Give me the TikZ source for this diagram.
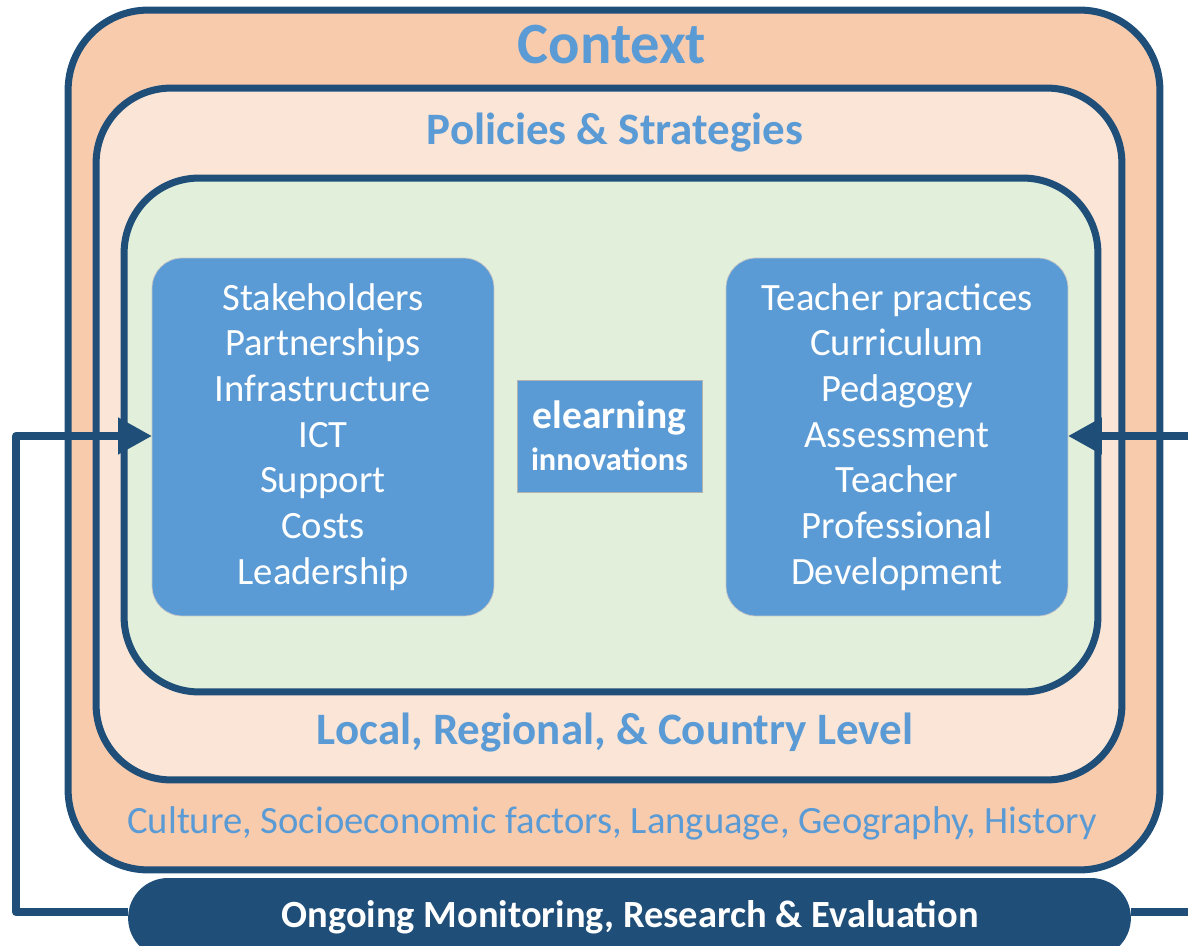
\documentclass[tikz,border=0pt]{standalone}
\usepackage{fontspec}
\setmainfont{Carlito}
\usetikzlibrary{arrows.meta}

\definecolor{darkblue}{HTML}{1F4E79}
\definecolor{midblue}{HTML}{5B9BD5}
\definecolor{peach}{HTML}{F8CBAD}
\definecolor{lightpeach}{HTML}{FBE5D6}
\definecolor{lightgreen}{HTML}{E2EFDA}

\begin{document}
\begin{tikzpicture}[x=0.02cm,y=-0.02cm]

    \tikzset{
      layer/.style={
        draw=darkblue,
        line width=4pt,
        rectangle,
        rounded corners=1.6cm,
        inner sep=0pt,
        outer sep=0pt,
      },
      itembox/.style={
        draw=gray!45,
        fill=midblue,
        rectangle,
        rounded corners=0.6cm,
        minimum width=6.84cm,
        minimum height=7.16cm,
        outer sep=0pt,
        align=center,
        text=white,
        font=\fontsize{22}{26}\selectfont,
      },
      title/.style={
        text=midblue,
        font=\bfseries\fontsize{25.6}{30}\selectfont,
      },
      feedback/.style={
        draw=darkblue,
        line width=4.5pt,
        line join=round,
      },
    }
    \useasboundingbox (0,0) rectangle (1188,946);
    \clip (0,0) rectangle (1188,946);

    % nested levels
    \node[layer,fill=peach,minimum width=21.84cm,minimum height=17.2cm] (context) at (614,440) {};
    \node[layer,fill=lightpeach,minimum width=20.52cm,minimum height=13.84cm,rounded corners=1.5cm] (policies) at (609,434) {};
    \node[layer,fill=lightgreen,minimum width=19.48cm,minimum height=10.28cm,rounded corners=1.5cm] (level) at (611,435) {};

    % titles
    \node[text=midblue,font=\bfseries\fontsize{33.3}{38}\selectfont] (contextlabel) at (612,45) {Context};
    \node[title] (policieslabel) at (615,133) {Policies \& Strategies};
    \node[title] (levellabel) at (615,733) {Local, Regional, \& Country Level};
    \node[text=midblue,font=\fontsize{22}{26}\selectfont] (culturelabel) at (612,823)
      {Culture, Socioeconomic factors, Language, Geography, History};

    % inner boxes
    \node[itembox] (resources) at (323,437)
      {Stakeholders\\Partnerships\\Infrastructure\\ICT\\Support\\Costs\\Leadership};
    \node[itembox] (practices) at (897,437)
      {Teacher practices\\Curriculum\\Pedagogy\\Assessment\\Teacher\\Professional\\Development};
    \node[draw=gray!60,fill=midblue,minimum width=3.7cm,minimum height=2.24cm,
      align=center,text=white,font=\bfseries] (innovations) at (609.5,436)
      {{\fontsize{22.5}{25}\selectfont elearning}\\[6pt]{\fontsize{18.4}{21}\selectfont innovations}};

    % monitoring bar
    \node[fill=darkblue,rectangle,rounded corners=0.8cm,minimum width=20.06cm,
      minimum height=1.6cm,outer sep=0pt] (monitoring) at (629.5,918) {};
    \node[text=white,font=\bfseries\fontsize{21.9}{25}\selectfont] (monitoringlabel) at (630,917)
      {Ongoing Monitoring, Research \& Evaluation};

    % feedback loops
    \coordinate (leftdown) at (16,912);
    \coordinate (leftup) at (16,436);
    \coordinate (rightout) at (1188,912);
    \coordinate (rightin) at (1188,436);
    \draw[feedback,-{Triangle[length=0.68cm,width=0.7cm]}]
      (monitoring.west |- leftdown) -- (leftdown) -- (leftup) -- (resources.west |- leftup);
    \draw[feedback] (monitoring.east |- rightout) -- (rightout);
    \draw[feedback,-{Triangle[length=0.68cm,width=0.7cm]}] (rightin) -- (practices.east |- rightin);

\end{tikzpicture}
\end{document}
